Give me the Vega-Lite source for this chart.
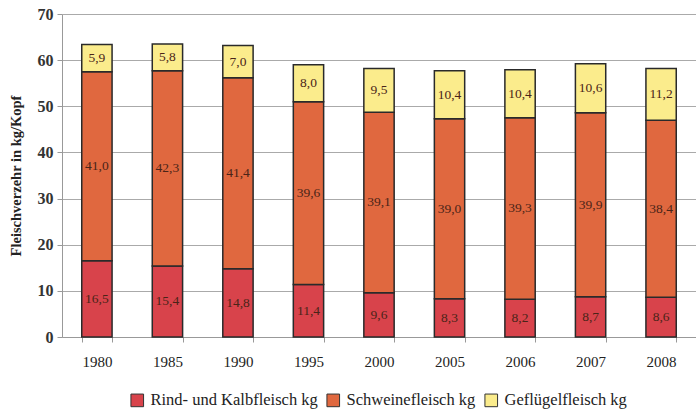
{
  "$schema": "https://vega.github.io/schema/vega-lite/v6.json",
  "width": 634,
  "height": 323,
  "autosize": {"type": "none"},
  "padding": {"left": 62, "top": 14, "right": 0, "bottom": 73},
  "background": "white",
  "config": {
    "locale": {"number": {"decimal": ",", "thousands": ".", "grouping": [3], "currency": ["", " €"]}},
    "view": {"stroke": null},
    "font": "Liberation Serif"
  },
  "data": {
    "values": [
      {"Jahr": "1980", "Art": "Rind- und Kalbfleisch kg", "o": 1, "v": 16.5},
      {"Jahr": "1980", "Art": "Schweinefleisch kg", "o": 2, "v": 41.0},
      {"Jahr": "1980", "Art": "Geflügelfleisch kg", "o": 3, "v": 5.9},
      {"Jahr": "1985", "Art": "Rind- und Kalbfleisch kg", "o": 1, "v": 15.4},
      {"Jahr": "1985", "Art": "Schweinefleisch kg", "o": 2, "v": 42.3},
      {"Jahr": "1985", "Art": "Geflügelfleisch kg", "o": 3, "v": 5.8},
      {"Jahr": "1990", "Art": "Rind- und Kalbfleisch kg", "o": 1, "v": 14.8},
      {"Jahr": "1990", "Art": "Schweinefleisch kg", "o": 2, "v": 41.4},
      {"Jahr": "1990", "Art": "Geflügelfleisch kg", "o": 3, "v": 7.0},
      {"Jahr": "1995", "Art": "Rind- und Kalbfleisch kg", "o": 1, "v": 11.4},
      {"Jahr": "1995", "Art": "Schweinefleisch kg", "o": 2, "v": 39.6},
      {"Jahr": "1995", "Art": "Geflügelfleisch kg", "o": 3, "v": 8.0},
      {"Jahr": "2000", "Art": "Rind- und Kalbfleisch kg", "o": 1, "v": 9.6},
      {"Jahr": "2000", "Art": "Schweinefleisch kg", "o": 2, "v": 39.1},
      {"Jahr": "2000", "Art": "Geflügelfleisch kg", "o": 3, "v": 9.5},
      {"Jahr": "2005", "Art": "Rind- und Kalbfleisch kg", "o": 1, "v": 8.3},
      {"Jahr": "2005", "Art": "Schweinefleisch kg", "o": 2, "v": 39.0},
      {"Jahr": "2005", "Art": "Geflügelfleisch kg", "o": 3, "v": 10.4},
      {"Jahr": "2006", "Art": "Rind- und Kalbfleisch kg", "o": 1, "v": 8.2},
      {"Jahr": "2006", "Art": "Schweinefleisch kg", "o": 2, "v": 39.3},
      {"Jahr": "2006", "Art": "Geflügelfleisch kg", "o": 3, "v": 10.4},
      {"Jahr": "2007", "Art": "Rind- und Kalbfleisch kg", "o": 1, "v": 8.7},
      {"Jahr": "2007", "Art": "Schweinefleisch kg", "o": 2, "v": 39.9},
      {"Jahr": "2007", "Art": "Geflügelfleisch kg", "o": 3, "v": 10.6},
      {"Jahr": "2008", "Art": "Rind- und Kalbfleisch kg", "o": 1, "v": 8.6},
      {"Jahr": "2008", "Art": "Schweinefleisch kg", "o": 2, "v": 38.4},
      {"Jahr": "2008", "Art": "Geflügelfleisch kg", "o": 3, "v": 11.2}
    ]
  },
  "encoding": {
    "x": {
      "field": "Jahr", "type": "ordinal",
      "scale": {"paddingInner": 0.57, "paddingOuter": 0.28},
      "axis": {
        "title": null, "labelAngle": 0, "labelFontSize": 15, "labelColor": "#222",
        "labelPadding": 12, "tickBand": "extent", "tickColor": "#999", "tickSize": 5,
        "domainColor": "#999", "grid": false
      }
    },
    "y": {
      "field": "v", "type": "quantitative", "stack": "zero",
      "scale": {"domain": [0, 70]},
      "axis": {
        "title": "Fleischverzehr in kg/Kopf", "titleFontSize": 14.5, "titleFontWeight": "bold",
        "titleColor": "#222", "titlePadding": 14,
        "values": [0, 10, 20, 30, 40, 50, 60, 70], "format": "d",
        "labelFontSize": 16, "labelFontWeight": "bold", "labelColor": "#333", "labelPadding": 4,
        "tickColor": "#999", "tickSize": 5, "domainColor": "#999",
        "gridColor": "#aaa", "gridWidth": 1
      }
    },
    "order": {"field": "o"}
  },
  "layer": [
    {
      "mark": {"type": "bar", "stroke": "#2a2a2a", "strokeWidth": 1.5},
      "encoding": {
        "color": {
          "field": "Art", "type": "nominal",
          "scale": {
            "domain": ["Rind- und Kalbfleisch kg", "Schweinefleisch kg", "Geflügelfleisch kg"],
            "range": ["#d8434b", "#e0683f", "#fbec8c"]
          },
          "legend": {
            "title": null, "orient": "none", "direction": "horizontal",
            "legendX": 67, "legendY": 378,
            "symbolType": "square", "symbolSize": 160, "symbolStrokeColor": "#333", "symbolStrokeWidth": 1,
            "labelFontSize": 16.5, "labelColor": "#222", "columnPadding": 6, "labelOffset": 5, "labelLimit": 300
          }
        }
      }
    },
    {
      "mark": {"type": "text", "fontSize": 13.5, "color": "#4a2418", "font": "Liberation Serif"},
      "encoding": {
        "y": {"field": "v", "type": "quantitative", "stack": "zero", "bandPosition": 0.5},
        "text": {"field": "v", "type": "quantitative", "format": ".1f"}
      }
    }
  ]
}
